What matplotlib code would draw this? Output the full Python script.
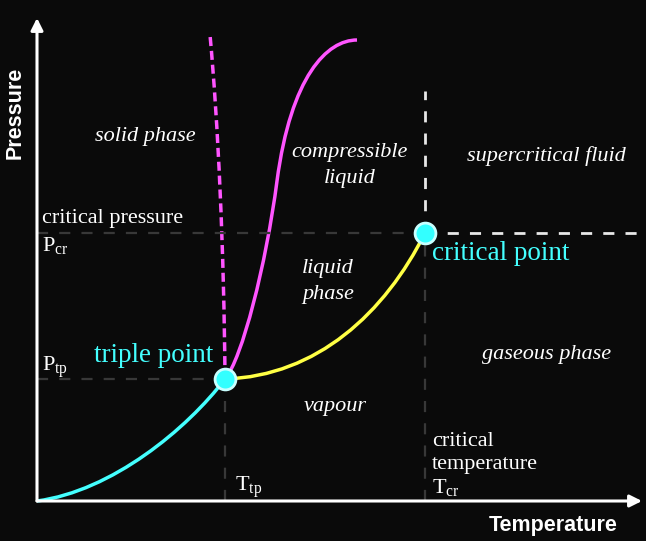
import matplotlib.pyplot as plt
from matplotlib.path import Path
from matplotlib.patches import PathPatch

plt.rcParams['mathtext.fontset'] = 'custom'
plt.rcParams['mathtext.rm'] = 'Liberation Serif'

# phase boundaries as bezier control points (temperature, pressure), origin at axis corner
sub_T = [0, 75, 150, 188]
sub_P = [0, 10, 72, 122]

vap_T = [188, 280, 348, 388]
vap_P = [122, 125, 188, 268]

melt_dash_T = [188, 187, 181, 173]
melt_dash_P = [122, 250, 380, 466]

melt_T = [188, 205, 229, 240, 254, 290, 320]
melt_P = [122, 142, 236, 320, 425, 461, 461]

triple = (188, 122)
critical = (388, 268)

fig = plt.figure(figsize=(6.46, 5.41), dpi=100, facecolor='#0a0a0a')
ax = fig.add_axes([0, 0, 1, 1])
ax.set_facecolor('#0a0a0a')
ax.set_xlim(-37, 609)
ax.set_ylim(-40, 501)
ax.axis('off')


def curve(T, P, **kw):
    verts = list(zip(T, P))
    codes = [Path.MOVETO] + [Path.CURVE4] * (len(verts) - 1)
    ax.add_patch(PathPatch(Path(verts, codes), fill=False, **kw))


# guide lines
grey = dict(color='#383838', lw=1.6, ls=(0, (5, 5)))
ax.plot([0, critical[0]], [critical[1]] * 2, **grey)
ax.plot([0, triple[0]], [triple[1]] * 2, **grey)
ax.plot([triple[0]] * 2, [0, triple[1]], **grey)
ax.plot([critical[0]] * 2, [0, critical[1]], **grey)
white = dict(color='#e8e8e8', lw=2, ls=(0, (4, 4)))
ax.plot([critical[0], 603], [critical[1]] * 2, **white)
ax.plot([critical[0]] * 2, [critical[1], 410], **white)

# axes arrows
arr = dict(arrowstyle='-|>', color='white', lw=2.2, mutation_scale=18, shrinkA=0, shrinkB=0)
ax.annotate('', xy=(0, 483), xytext=(0, 0), arrowprops=arr)
ax.annotate('', xy=(605, 0), xytext=(0, 0), arrowprops=arr)

curve(sub_T, sub_P, color='#44ffff', lw=2.5)
curve(vap_T, vap_P, color='#ffff44', lw=2.5)
curve(melt_dash_T, melt_dash_P, color='#ff55ff', lw=2.5, ls=(0, (2.6, 1.4)))
curve(melt_T, melt_P, color='#ff55ff', lw=2.5)

for p in (triple, critical):
    ax.plot(*p, 'o', ms=15, mfc='#33ffff', mec='#c8ffff', mew=2, zorder=5)

ax.text(-22, 388, 'Pressure', rotation=90, ha='center', va='center', color='white',
        fontsize=15.5, fontweight='bold', family='Liberation Sans')
ax.text(516, -24, 'Temperature', ha='center', va='center', color='white',
        fontsize=15.5, fontweight='bold', family='Liberation Sans')

serif = dict(color='white', family='Liberation Serif')
it = dict(serif, style='italic', fontsize=16, ha='center', va='center')
ax.text(108, 365, 'solid phase', **it)
ax.text(313, 336, 'compressible\nliquid', linespacing=1.5, **it)
ax.text(509, 345, 'supercritical fluid', **it)
ax.text(291, 220, 'liquid\nphase', linespacing=1.5, **it)
ax.text(510, 147, 'gaseous phase', **it)
ax.text(298, 95, 'vapour', **it)

ax.text(5, 283, 'critical pressure', fontsize=16, va='center', **serif)
ax.text(5, 256, r'$\mathrm{P_{cr}}$', fontsize=16, va='center', **serif)
ax.text(5, 134, r'$\mathrm{P_{tp}}$', fontsize=16, va='center', **serif)
ax.text(198, 14, r'$\mathrm{T_{tp}}$', fontsize=16, va='center', **serif)
ax.text(395, 59, 'critical', fontsize=16, va='center', **serif)
ax.text(395, 36, 'temperature', fontsize=16, va='center', **serif)
ax.text(395, 14, r'$\mathrm{T_{cr}}$', fontsize=16, va='center', **serif)

ax.text(117, 146, 'triple point', color='#44ffff', family='Liberation Serif',
        fontsize=19.5, ha='center', va='center')
ax.text(395, 248, 'critical point', color='#44ffff', family='Liberation Serif',
        fontsize=19.5, ha='left', va='center')

fig.savefig('out.png', dpi=100, facecolor=fig.get_facecolor())
